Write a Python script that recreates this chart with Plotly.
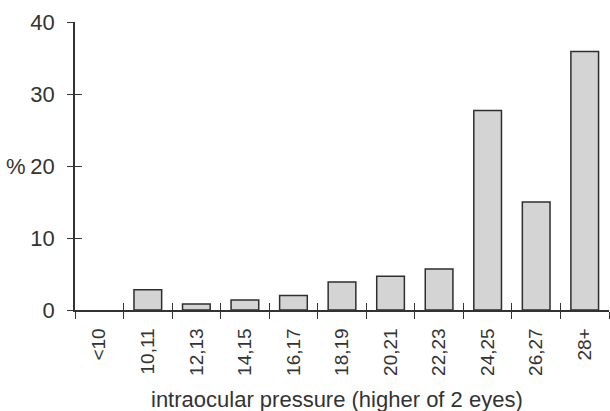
import plotly.graph_objects as go

categories = ["<10", "10,11", "12,13", "14,15", "16,17", "18,19", "20,21", "22,23", "24,25", "26,27", "28+"]
percent = [0, 2.8, 0.85, 1.4, 2.0, 3.9, 4.7, 5.7, 27.7, 15.0, 35.9]
y_ticks = [0, 10, 20, 30, 40]
x_title = "intraocular pressure (higher of 2 eyes)"
y_title = "%"

FONT = "Liberation Sans, Arial, Helvetica, sans-serif"
INK = "#333333"

# zero-height bars get no outline (reference shows nothing there)
outline_widths = [0 if v == 0 else 1.5 for v in percent]

fig = go.Figure()
fig.add_trace(go.Bar(
    x=categories, y=percent,
    marker=dict(color="#d4d4d4", line=dict(color="#2e2e2e", width=outline_widths)),
    hoverinfo="skip", showlegend=False,
))
# invisible trace on overlay axes, used only to draw crossing tick marks
fig.add_trace(go.Scatter(
    x=categories, y=percent, xaxis="x2", yaxis="y2",
    mode="markers", marker=dict(opacity=0), hoverinfo="skip", showlegend=False,
))

common_x = dict(type="category", categoryorder="array", categoryarray=categories,
                range=[-0.5, len(categories) - 0.5], tickson="boundaries",
                tickcolor=INK, tickwidth=1.3, ticklen=7, showgrid=False, zeroline=False)
common_y = dict(range=[0, 40], tickvals=y_ticks, tickcolor=INK, tickwidth=1.3,
                showgrid=False, zeroline=False)

fig.update_layout(
    width=610, height=411,
    margin=dict(l=75, r=1, t=22, b=101),
    paper_bgcolor="white", plot_bgcolor="white",
    bargap=0.43,
    font=dict(family=FONT, color=INK),
    xaxis=dict(**common_x, ticks="outside", showline=True, linecolor=INK, linewidth=1.5,
               tickangle=-90, tickfont=dict(size=19, family=FONT, color=INK),
               ticklabelstandoff=9, automargin=False),
    yaxis=dict(**common_y, ticks="outside", ticklen=6, showline=True, linecolor=INK,
               linewidth=1.5, tickfont=dict(size=22, family=FONT, color=INK),
               ticklabelstandoff=8, automargin=False),
    xaxis2=dict(**common_x, ticks="inside", overlaying="x", anchor="y2",
                showline=False, showticklabels=False),
    yaxis2=dict(**common_y, ticks="inside", ticklen=7, overlaying="y", anchor="x2",
                side="left", showline=False, showticklabels=False),
    annotations=[
        dict(text=x_title, xref="paper", yref="paper", x=0.49, y=-0.31,
             xanchor="center", yanchor="middle", showarrow=False,
             font=dict(size=22, family=FONT, color=INK)),
        dict(text=y_title, xref="paper", yref="y", x=0, y=20, xshift=-47,
             xanchor="right", yanchor="middle", showarrow=False,
             font=dict(size=22, family=FONT, color=INK)),
    ],
)

fig.write_html("out.html", config={"displayModeBar": False},
               post_script="document.body.style.margin='0';document.body.style.overflow='hidden';")
